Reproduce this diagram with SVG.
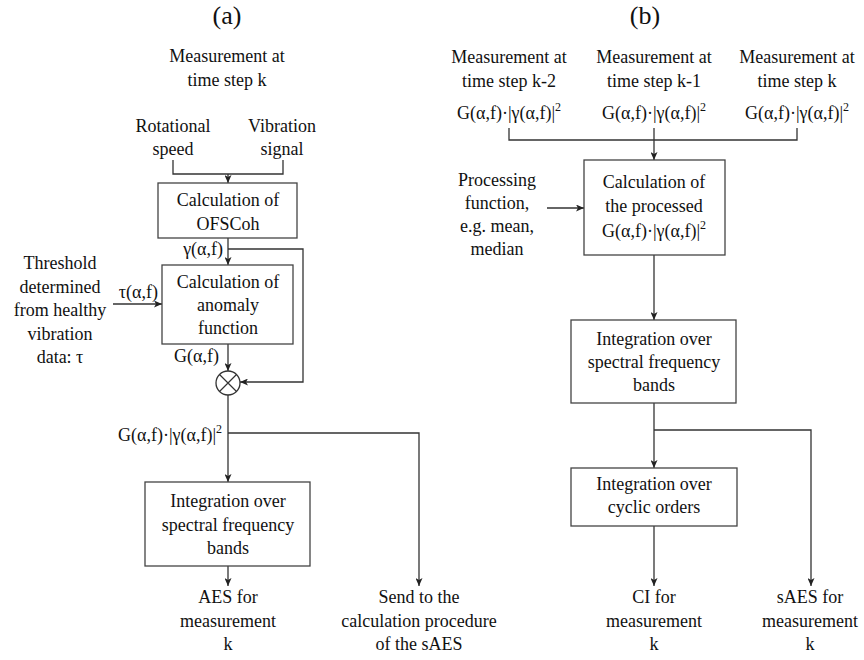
<svg xmlns="http://www.w3.org/2000/svg" width="864" height="660" viewBox="0 0 864 660">
<defs>
<marker id="ah" markerUnits="userSpaceOnUse" markerWidth="9" markerHeight="7" refX="8" refY="3.5" orient="auto">
<path d="M0,0 L8,3.5 L0,7 L2,3.5 z" fill="#222"/>
</marker>
<style>
text{font-size:18px;fill:#111;text-anchor:middle}
.t{font-size:26px}
.e{text-anchor:end}
.b{fill:#fff;stroke:#444;stroke-width:1.3}
.c{fill:none;stroke:#333;stroke-width:1.3}
.a{marker-end:url(#ah)}
.sup{font-size:12px}
</style>
</defs>
<rect width="864" height="660" fill="#fff"/>

<g id="connectors">
<path class="c" d="M173,160 V174 H283 V160"/>
<path class="c a" d="M228,174 V183"/>
<path class="c a" d="M228,238 V265"/>
<path class="c a" d="M228,249 H303 V382 H240"/>
<path class="c a" d="M113,304 H162"/>
<path class="c a" d="M228,344 V371"/>
<path class="c a" d="M228,395 V482"/>
<path class="c a" d="M228,433 H419 V586"/>
<path class="c a" d="M228,566 V586"/>
<path class="c" d="M509,128 V140 H797 V128"/>
<path class="c a" d="M654,128 V160"/>
<path class="c a" d="M547,208 H584"/>
<path class="c a" d="M654,255 V320"/>
<path class="c a" d="M654,403 V468"/>
<path class="c a" d="M654,430 H811 V586"/>
<path class="c a" d="M654,526 V586"/>
</g>

<g font-family="Liberation Serif, serif">
<g id="titles">
<text class="t" x="227" y="24">(a)</text>
<text class="t" x="645" y="24">(b)</text>
</g>

<g id="meas-a">
<text x="227" y="62">Measurement at</text>
<text x="227" y="86">time step k</text>
</g>
<g id="rot-speed">
<text x="173" y="132">Rotational</text>
<text x="173" y="155">speed</text>
</g>
<g id="vib-signal">
<text x="282" y="132">Vibration</text>
<text x="282" y="155">signal</text>
</g>
<g id="ofscoh">
<rect class="b" x="158" y="183" width="139" height="55"/>
<text x="228" y="206">Calculation of</text>
<text x="228" y="230">OFSCoh</text>
</g>
<g id="gamma-label">
<text class="e" x="223" y="255">γ(α,f)</text>
</g>
<g id="anomaly">
<rect class="b" x="162" y="265" width="131" height="79"/>
<text x="228" y="288">Calculation of</text>
<text x="228" y="311">anomaly</text>
<text x="228" y="334">function</text>
</g>
<g id="threshold">
<text x="60" y="269">Threshold</text>
<text x="60" y="293">determined</text>
<text x="60" y="316">from healthy</text>
<text x="60" y="340">vibration</text>
<text x="60" y="363">data: τ</text>
</g>
<g id="tau-label">
<text class="e" x="158" y="298">τ(α,f)</text>
</g>
<g id="g-label">
<text class="e" x="219" y="362">G(α,f)</text>
</g>
<g id="multiply">
<circle cx="228" cy="383" r="12" fill="#fff" stroke="#333" stroke-width="1.3"/>
<path d="M219.5,374.5 L236.5,391.5 M236.5,374.5 L219.5,391.5" stroke="#333" stroke-width="1.2"/>
</g>
<g id="product-label-a">
<text class="e" x="222" y="441">G(α,f)·|γ(α,f)|<tspan class="sup" dy="-8">2</tspan></text>
</g>
<g id="integration-a">
<rect class="b" x="145" y="482" width="165" height="84"/>
<text x="228" y="507">Integration over</text>
<text x="228" y="531">spectral frequency</text>
<text x="228" y="554">bands</text>
</g>
<g id="aes">
<text x="228" y="603">AES for</text>
<text x="228" y="627">measurement</text>
<text x="228" y="650">k</text>
</g>
<g id="send">
<text x="419" y="603">Send to the</text>
<text x="419" y="627">calculation procedure</text>
<text x="419" y="650">of the sAES</text>
</g>

<g id="meas-k2">
<text x="509" y="63">Measurement at</text>
<text x="509" y="87">time step k-2</text>
<text x="509" y="119">G(α,f)·|γ(α,f)|<tspan class="sup" dy="-8">2</tspan></text>
</g>
<g id="meas-k1">
<text x="654" y="63">Measurement at</text>
<text x="654" y="87">time step k-1</text>
<text x="654" y="119">G(α,f)·|γ(α,f)|<tspan class="sup" dy="-8">2</tspan></text>
</g>
<g id="meas-k">
<text x="797" y="63">Measurement at</text>
<text x="797" y="87">time step k</text>
<text x="797" y="119">G(α,f)·|γ(α,f)|<tspan class="sup" dy="-8">2</tspan></text>
</g>
<g id="processing">
<text x="497" y="186">Processing</text>
<text x="497" y="209">function,</text>
<text x="497" y="232">e.g. mean,</text>
<text x="497" y="255">median</text>
</g>
<g id="processed">
<rect class="b" x="584" y="160" width="141" height="95"/>
<text x="654" y="188">Calculation of</text>
<text x="654" y="212">the processed</text>
<text x="654" y="237">G(α,f)·|γ(α,f)|<tspan class="sup" dy="-8">2</tspan></text>
</g>
<g id="integration-b">
<rect class="b" x="571" y="320" width="165" height="83"/>
<text x="654" y="345">Integration over</text>
<text x="654" y="368">spectral frequency</text>
<text x="654" y="391">bands</text>
</g>
<g id="cyclic">
<rect class="b" x="571" y="468" width="166" height="58"/>
<text x="654" y="490">Integration over</text>
<text x="654" y="513">cyclic orders</text>
</g>
<g id="ci">
<text x="654" y="603">CI for</text>
<text x="654" y="627">measurement</text>
<text x="654" y="650">k</text>
</g>
<g id="saes">
<text x="810" y="603">sAES for</text>
<text x="810" y="627">measurement</text>
<text x="810" y="650">k</text>
</g>
</g>
</svg>
